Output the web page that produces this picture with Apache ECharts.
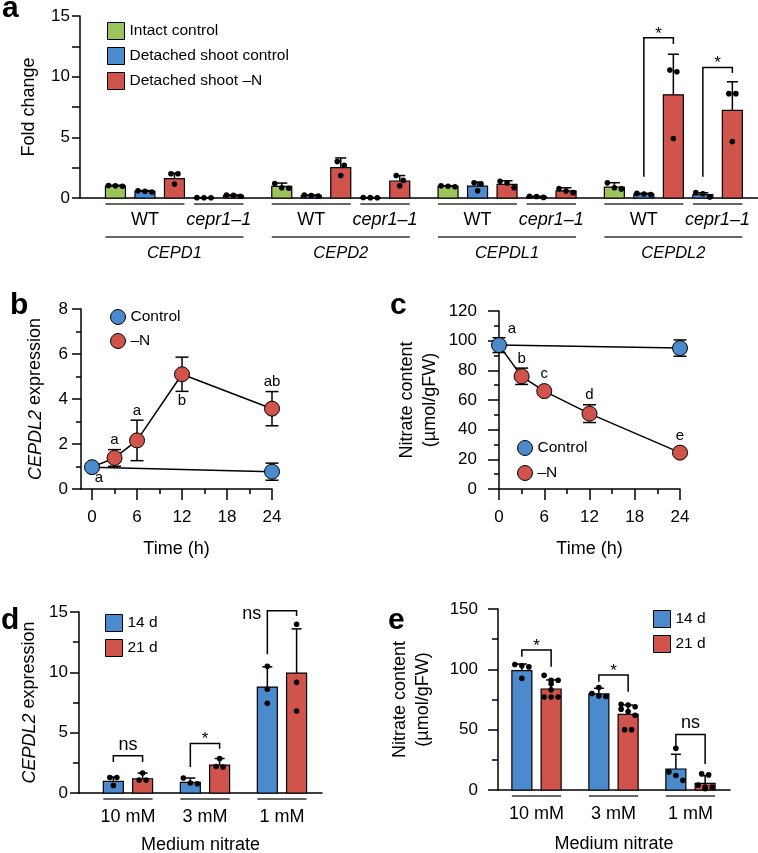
<!DOCTYPE html>
<html>
<head>
<meta charset="utf-8">
<script src="https://cdn.jsdelivr.net/npm/echarts@6/dist/echarts.min.js"></script>
<style>
  html, body { margin: 0; padding: 0; background: #fff; }
  #chart { width: 758px; height: 853px; }
</style>
</head>
<body>
<div id="chart"></div>
<script>
  // ---------- panel a : fold change of CEPD genes ----------
  const aGenes = ['CEPD1', 'CEPD2', 'CEPDL1', 'CEPDL2'];
  const aGenotypes = ['WT', 'cepr1\u20131'];
  const aSeriesNames = ['Intact control', 'Detached shoot control', 'Detached shoot \u2013N'];
  // bars inside one gene: WT intact, WT detached ctrl, WT detached -N, cepr1-1 detached ctrl, cepr1-1 detached -N
  const aTreat = [0, 1, 2, 1, 2];
  const aMean = [
    [0.98, 0.55, 1.60, 0.02, 0.20],
    [0.95, 0.20, 2.50, 0.03, 1.40],
    [0.96, 0.98, 1.12, 0.10, 0.58],
    [0.90, 0.32, 8.50, 0.28, 7.22]
  ];
  const aSd = [
    [0.07, 0.06, 0.45, 0.01, 0.05],
    [0.28, 0.05, 0.80, 0.01, 0.45],
    [0.04, 0.33, 0.30, 0.04, 0.26],
    [0.36, 0.06, 3.35, 0.15, 2.36]
  ];
  const aDots = [
    [[1.03, 1.0, 0.96], [0.6, 0.55, 0.5], [2.0, 2.0, 1.15], [0.03, 0.02, 0.02], [0.24, 0.22, 0.15]],
    [[1.2, 0.85, 0.8], [0.25, 0.2, 0.17], [3.0, 2.7, 1.85], [0.04, 0.03, 0.02], [1.85, 1.45, 1.0]],
    [[1.0, 0.97, 0.93], [1.25, 1.15, 0.6], [1.38, 1.24, 0.85], [0.15, 0.12, 0.05], [0.77, 0.58, 0.44]],
    [[1.25, 0.85, 0.75], [0.38, 0.33, 0.28], [10.55, 10.4, 4.9], [0.45, 0.35, 0.08], [8.6, 8.6, 4.65]]
  ];
  // gene, left bar, right bar, left foot, top, right foot
  const aBrackets = [[3, 1, 2, 1.75, 13.2, 12.7], [3, 3, 4, 1.75, 10.75, 10.3]];
  const aBracketText = ['*', '*'];

  // ---------- panel b : CEPDL2 expression over time ----------
  const bCtrlT = [0, 24];
  const bCtrl = [0.97, 0.77];
  const bCtrlSd = [0.05, 0.38];
  const bLettersC = ['a', ''];
  const bNT = [0, 3, 6, 12, 24];
  const bN = [0.97, 1.38, 2.16, 5.1, 3.57];
  const bNSd = [0, 0.37, 0.9, 0.76, 0.76];
  const bLettersN = ['', 'a', 'a', 'b', 'ab'];

  // ---------- panel c : nitrate content over time ----------
  const cCtrlT = [0, 24];
  const cCtrl = [97, 95];
  const cCtrlSd = [5, 5.5];
  const cLettersC = ['a', ''];
  const cNT = [0, 3, 6, 12, 24];
  const cN = [97, 76, 66, 50.8, 24.5];
  const cNSd = [0, 5.5, 1.5, 6, 1.5];
  const cLettersN = ['', 'b', 'c', 'd', 'e'];

  // ---------- panels d, e : medium nitrate ----------
  const nitrate = ['10 mM', '3 mM', '1 mM'];
  const ages = ['14 d', '21 d'];
  const dMean = [[0.96, 1.18], [0.88, 2.31], [8.78, 9.94]];
  const dSd = [[0.36, 0.47], [0.36, 0.55], [1.68, 3.66]];
  const dDots = [
    [[1.29, 1.29, 0.63], [1.65, 1.07, 1.07]],
    [[1.24, 0.83, 0.77], [2.86, 2.15, 2.2]],
    [[10.5, 8.6, 7.43], [13.98, 9.17, 6.8]]
  ];
  // category, left foot, top, right foot
  const dBrackets = [[0, 2.56, 3.08, 2.56], [1, 2.15, 4.1, 3.66], [2, 11.5, 15.1, 14.67]];
  const dBracketText = ['ns', '*', 'ns'];

  const eMean = [[99.0, 83.7], [79.6, 62.7], [17.4, 5.5]];
  const eSd = [[5.4, 7.5], [4.7, 7.7], [12.2, 6.4]];
  const eDots = [
    [[104, 103, 102, 92.5], [95, 91, 91, 88, 83, 77, 77, 77]],
    [[85, 80, 78, 77.5], [71, 70.5, 69, 67, 65, 62, 50, 50]],
    [[34.5, 15, 12, 8], [13.5, 12.5, 4, 2.5, 2.5, 1]]
  ];
  const eBrackets = [[0, 110.5, 116, 102.2], [1, 89.8, 95.3, 81.5], [2, 36, 46, 21.5]];
  const eBracketText = ['*', '*', 'ns'];

  // ---------- styling ----------
  const FONT = '"Liberation Sans", Arial, Helvetica, sans-serif';
  const GREEN = '#9cc45c', BLUE = '#4b8bcd', RED = '#d1544c';
  const A_STEP = 0.1774;   // spacing of bars inside a gene group (gene units)
  const DE_STEP = 0.19;    // half spacing of the two age bars (category units)
  const LINE = { stroke: '#000', lineWidth: 1.5 };

  function barItem(bw, cap) {
    return function (params, api) {
      const x = api.value(0), m = api.value(1), sd = api.value(2);
      const p0 = api.coord([x, 0]), p1 = api.coord([x, m]), p2 = api.coord([x, m + sd]);
      return {
        type: 'group', children: [
          { type: 'line', shape: { x1: p1[0], y1: p1[1], x2: p2[0], y2: p2[1] }, style: LINE },
          { type: 'line', shape: { x1: p2[0] - cap / 2, y1: p2[1], x2: p2[0] + cap / 2, y2: p2[1] }, style: LINE },
          { type: 'rect', shape: { x: p0[0] - bw / 2, y: p1[1], width: bw, height: p0[1] - p1[1] },
            style: { fill: api.visual('color'), stroke: '#000', lineWidth: 1.2 } }
        ]
      };
    };
  }

  // dots spread sideways when they sit on top of each other
  function dotItem(lists) {
    return function (params, api) {
      const x = api.value(0);
      const pts = lists[params.dataIndex].map(v => api.coord([x, v])).sort((p, q) => p[1] - q[1]);
      const kids = [];
      let i = 0;
      while (i < pts.length) {
        let j = i + 1;
        while (j < pts.length && j - i < 3 && pts[j][1] - pts[j - 1][1] < 5) j++;
        const n = j - i;
        for (let k = i; k < j; k++) {
          const dx = (k - i - (n - 1) / 2) * 7;
          kids.push({ type: 'circle', shape: { cx: pts[k][0] + dx, cy: pts[k][1], r: 2.8 }, style: { fill: '#000' } });
        }
        i = j;
      }
      return { type: 'group', children: kids };
    };
  }

  function bracketItem(texts, places) {
    return function (params, api) {
      const i = params.dataIndex;
      const xl = api.value(0), xr = api.value(1);
      const a = api.coord([xl, api.value(2)]), b = api.coord([xl, api.value(3)]);
      const c = api.coord([xr, api.value(3)]), d = api.coord([xr, api.value(4)]);
      const t = texts[i];
      const place = places ? places[i] : 'top';
      const star = t === '*';
      let tx = (b[0] + c[0]) / 2, ty = b[1] - (star ? 4 : 11), al = 'center';
      if (place === 'left') { tx = b[0] - 6; ty = b[1] + 3; al = 'right'; }
      return {
        type: 'group', children: [
          { type: 'polyline', shape: { points: [a, b, c, d] }, style: { stroke: '#000', lineWidth: 1.5, fill: null } },
          { type: 'text', x: tx, y: ty, style: { text: t, font: (star ? 17 : 18) + 'px ' + FONT, fill: '#000', align: al, verticalAlign: 'middle' } }
        ]
      };
    };
  }

  function errLetterItem(letters, places) {
    return function (params, api) {
      const i = params.dataIndex;
      const t = api.value(0), m = api.value(1), sd = api.value(2);
      const c = api.coord([t, m]), hi = api.coord([t, m + sd]), lo = api.coord([t, m - sd]);
      const kids = [];
      if (sd > 0) {
        kids.push({ type: 'line', shape: { x1: c[0], y1: hi[1], x2: c[0], y2: lo[1] }, style: LINE });
        kids.push({ type: 'line', shape: { x1: c[0] - 6.5, y1: hi[1], x2: c[0] + 6.5, y2: hi[1] }, style: LINE });
        kids.push({ type: 'line', shape: { x1: c[0] - 6.5, y1: lo[1], x2: c[0] + 6.5, y2: lo[1] }, style: LINE });
      }
      const txt = letters[i];
      if (txt) {
        const p = places[i];
        let x = c[0], y, va = 'middle';
        if (p === 'top') { y = Math.min(hi[1], c[1] - 7.5) - 2; va = 'bottom'; }
        else if (p === 'bottom') { y = Math.max(lo[1], c[1] + 7.5) + 2; va = 'top'; }
        else if (p === 'br') { x += 7; y = c[1] + 11; }
        else { x += 13; y = c[1] - 16; }
        kids.push({ type: 'text', x: x, y: y, style: { text: txt, font: '15px ' + FONT, fill: '#000', align: 'center', verticalAlign: va } });
      }
      return { type: 'group', children: kids };
    };
  }

  // underline + labels under panel a
  function aGroupItem(params, api) {
    const g = api.value(0);
    const px = k => api.coord([g + (k - 2) * A_STEP, 0]);
    const y0 = px(0)[1];
    const l0 = px(0)[0] - 10, r2 = px(2)[0] + 10, l3 = px(3)[0] - 10, r4 = px(4)[0] + 10;
    const ul = (x1, x2, y) => ({ type: 'line', shape: { x1: x1, y1: y, x2: x2, y2: y }, style: { stroke: '#333', lineWidth: 1.5 } });
    const tx = (x, y, s, italic, size) => ({ type: 'text', x: x, y: y,
      style: { text: s, font: (italic ? 'italic ' : '') + size + 'px ' + FONT, fill: '#000', align: 'center', verticalAlign: 'middle' } });
    return {
      type: 'group', children: [
        ul(l0, r2, y0 + 6), ul(l3, r4, y0 + 6), ul(l0, r4, y0 + 39),
        tx((l0 + r2) / 2, y0 + 22, aGenotypes[0], false, 18),
        tx((l3 + r4) / 2, y0 + 22, aGenotypes[1], true, 18),
        tx((l0 + r4) / 2, y0 + 55, aGenes[params.dataIndex], true, 16.5)
      ]
    };
  }

  function catGroupItem(params, api) {
    const c = api.value(0);
    const l = api.coord([c - DE_STEP, 0]), r = api.coord([c + DE_STEP, 0]);
    return {
      type: 'group', children: [
        { type: 'line', shape: { x1: l[0] - 10, y1: l[1] + 6, x2: r[0] + 10, y2: l[1] + 6 }, style: { stroke: '#333', lineWidth: 1.5 } },
        { type: 'text', x: (l[0] + r[0]) / 2, y: l[1] + 24,
          style: { text: nitrate[params.dataIndex], font: '18px ' + FONT, fill: '#000', align: 'center', verticalAlign: 'middle' } }
      ]
    };
  }

  // ---------- series ----------
  const series = [];
  const aColors = [GREEN, BLUE, RED];
  const aDotList = [], aDotData = [];
  aSeriesNames.forEach((name, s) => {
    const data = [];
    aGenes.forEach((g, gi) => aTreat.forEach((t, k) => {
      if (t === s) data.push([gi + (k - 2) * A_STEP, aMean[gi][k], aSd[gi][k]]);
    }));
    series.push({ name: name, type: 'custom', xAxisIndex: 0, yAxisIndex: 0, itemStyle: { color: aColors[s] },
      renderItem: barItem(20, 11), data: data, z: 2 });
  });
  aGenes.forEach((g, gi) => aTreat.forEach((t, k) => {
    aDotData.push([gi + (k - 2) * A_STEP, 0]);
    aDotList.push(aDots[gi][k]);
  }));
  series.push({ type: 'custom', xAxisIndex: 0, yAxisIndex: 0, renderItem: dotItem(aDotList), data: aDotData, z: 3 });
  series.push({ type: 'custom', xAxisIndex: 0, yAxisIndex: 0, renderItem: bracketItem(aBracketText), z: 3,
    data: aBrackets.map(b => [b[0] + (b[1] - 2) * A_STEP, b[0] + (b[2] - 2) * A_STEP, b[3], b[4], b[5]]) });
  series.push({ type: 'custom', xAxisIndex: 0, yAxisIndex: 0, renderItem: aGroupItem, data: aGenes.map((g, i) => [i, 0]) });

  // time course panels
  function timePanel(xi, yi, tC, vC, sdC, lC, placeC, tN, vN, sdN, lN, placeN) {
    series.push({ type: 'custom', xAxisIndex: xi, yAxisIndex: yi, z: 2, renderItem: errLetterItem(lN, placeN),
      data: tN.map((t, i) => [t, vN[i], sdN[i]]) });
    series.push({ type: 'custom', xAxisIndex: xi, yAxisIndex: yi, z: 2, renderItem: errLetterItem(lC, placeC),
      data: tC.map((t, i) => [t, vC[i], sdC[i]]) });
    series.push({ name: '\u2013N', type: 'line', xAxisIndex: xi, yAxisIndex: yi, z: 4,
      data: tN.map((t, i) => i === 0 ? { value: [t, vN[i]], symbol: 'none' } : [t, vN[i]]),
      symbol: 'circle', symbolSize: 15, itemStyle: { color: RED, borderColor: '#000', borderWidth: 1 },
      lineStyle: { color: '#000', width: 1.5 } });
    series.push({ name: 'Control', type: 'line', xAxisIndex: xi, yAxisIndex: yi, z: 5,
      data: tC.map((t, i) => [t, vC[i]]),
      symbol: 'circle', symbolSize: 15, itemStyle: { color: BLUE, borderColor: '#000', borderWidth: 1 },
      lineStyle: { color: '#000', width: 1.5 } });
  }
  timePanel(1, 1, bCtrlT, bCtrl, bCtrlSd, bLettersC, ['br', ''], bNT, bN, bNSd, bLettersN, ['', 'top', 'top', 'bottom', 'top']);
  timePanel(3, 2, cCtrlT, cCtrl, cCtrlSd, cLettersC, ['tr', ''], cNT, cN, cNSd, cLettersN, ['', 'top', 'top', 'top', 'top']);

  // nitrate panels
  function nitratePanel(xi, yi, mean, sd, dots, brackets, btext, bplace) {
    const colors = [BLUE, RED];
    ages.forEach((age, s) => {
      series.push({ name: age, type: 'custom', xAxisIndex: xi, yAxisIndex: yi, z: 2, itemStyle: { color: colors[s] },
        renderItem: barItem(20, 10), data: nitrate.map((n, c) => [c + (s ? DE_STEP : -DE_STEP), mean[c][s], sd[c][s]]) });
    });
    const dl = [], dd = [];
    nitrate.forEach((n, c) => ages.forEach((a, s) => { dd.push([c + (s ? DE_STEP : -DE_STEP), 0]); dl.push(dots[c][s]); }));
    series.push({ type: 'custom', xAxisIndex: xi, yAxisIndex: yi, z: 3, renderItem: dotItem(dl), data: dd });
    series.push({ type: 'custom', xAxisIndex: xi, yAxisIndex: yi, z: 3, renderItem: bracketItem(btext, bplace),
      data: brackets.map(b => [b[0] - DE_STEP, b[0] + DE_STEP, b[1], b[2], b[3]]) });
    series.push({ type: 'custom', xAxisIndex: xi, yAxisIndex: yi, renderItem: catGroupItem, data: nitrate.map((n, c) => [c, 0]) });
  }
  nitratePanel(4, 3, dMean, dSd, dDots, dBrackets, dBracketText, ['top', 'top', 'left']);
  nitratePanel(5, 4, eMean, eSd, eDots, eBrackets, eBracketText, null);

  // ---------- axes ----------
  const axLine = { show: true, onZero: false, lineStyle: { color: '#000', width: 1.5 } };
  const tickStyle = { color: '#000', width: 1.5 };
  const nameStyle = { fontSize: 18, color: '#000', fontFamily: FONT, lineHeight: 23,
    rich: { i: { fontStyle: 'italic', fontSize: 18, fontFamily: FONT, color: '#000' } } };
  function yAx(gi, max, interval, name, gap, margin, tick, minor) {
    return {
      type: 'value', gridIndex: gi, min: 0, max: max, interval: interval,
      axisLine: axLine,
      axisTick: { show: true, length: tick, lineStyle: tickStyle },
      minorTick: { show: true, splitNumber: 2, length: minor, lineStyle: tickStyle },
      axisLabel: { fontSize: 17, color: '#000', fontFamily: FONT, margin: margin },
      splitLine: { show: false }, minorSplitLine: { show: false },
      name: name, nameLocation: 'middle', nameGap: gap, nameTextStyle: nameStyle
    };
  }
  function plainX(gi, min, max, name, gap) {
    return {
      type: 'value', gridIndex: gi, min: min, max: max, axisLine: axLine,
      axisTick: { show: false }, axisLabel: { show: false }, splitLine: { show: false },
      name: name, nameLocation: 'middle', nameGap: gap, nameTextStyle: nameStyle
    };
  }

  const option = {
    animation: false,
    backgroundColor: '#fff',
    textStyle: { fontFamily: FONT },
    grid: [
      { left: 80, top: 16, width: 678, height: 182 },
      { left: 81, top: 309, width: 191, height: 180 },
      { left: 499, top: 311, width: 181, height: 178 },
      { left: 79, top: 612, width: 243, height: 181 },
      { left: 498, top: 609, width: 232, height: 181 }
    ].map(g => Object.assign({ containLabel: false, outerBoundsMode: 'none' }, g)),
    xAxis: [
      plainX(0, -0.568, 3.509, '', 0),
      {
        type: 'value', gridIndex: 1, min: -1.47, max: 24, axisLine: axLine,
        axisTick: { show: true, length: 11, lineStyle: tickStyle, customValues: [0, 6, 12, 18, 24] },
        axisLabel: { fontSize: 17, color: '#000', fontFamily: FONT, margin: 20, customValues: [0, 6, 12, 18, 24] },
        splitLine: { show: false },
        name: 'Time (h)', nameLocation: 'middle', nameGap: 49, nameTextStyle: nameStyle
      },
      {
        type: 'value', gridIndex: 1, position: 'bottom', min: -1.47, max: 24, axisLine: { show: false, onZero: false },
        axisTick: { show: true, length: 5, lineStyle: tickStyle, customValues: [3, 9, 15, 21] },
        axisLabel: { show: false }, splitLine: { show: false }
      },
      {
        type: 'value', gridIndex: 2, min: 0, max: 24, interval: 6, axisLine: axLine,
        axisTick: { show: true, length: 11, lineStyle: tickStyle },
        minorTick: { show: true, splitNumber: 2, length: 5, lineStyle: tickStyle },
        axisLabel: { fontSize: 17, color: '#000', fontFamily: FONT, margin: 20 },
        splitLine: { show: false }, minorSplitLine: { show: false },
        name: 'Time (h)', nameLocation: 'middle', nameGap: 49, nameTextStyle: nameStyle
      },
      plainX(3, -0.636, 2.52, 'Medium nitrate', 41),
      plainX(4, -0.5, 2.513, 'Medium nitrate', 43)
    ],
    yAxis: [
      Object.assign(yAx(0, 15, 5, 'Fold change', 39, 10, 8, 8), { minorTick: { show: true, splitNumber: 2, length: 8, lineStyle: tickStyle } }),
      yAx(1, 8, 2, '{i|CEPDL2} expression', 34, 13, 9, 5),
      yAx(2, 120, 20, 'Nitrate content\n(\u00b5mol/gFW)', 57, 22, 11, 5),
      yAx(3, 15, 5, '{i|CEPDL2} expression', 38, 11, 9, 6),
      yAx(4, 150, 50, 'Nitrate content\n(\u00b5mol/gFW)', 63, 20, 10, 6)
    ],
    legend: [
      { data: aSeriesNames, left: 107, top: 22 },
      { data: ['Control', '\u2013N'], left: 110, top: 309, icon: 'circle', itemWidth: 15, itemHeight: 15, itemGap: 8 },
      { data: ['Control', '\u2013N'], left: 517, top: 440, icon: 'circle', itemWidth: 15, itemHeight: 15, itemGap: 9 },
      { data: ages, left: 105, top: 614 },
      { data: ages, left: 653, top: 610 }
    ].map(l => Object.assign({
      orient: 'vertical', padding: 0, icon: 'rect', itemWidth: 17, itemHeight: 17, itemGap: 7, selectedMode: false,
      itemStyle: { borderColor: '#000', borderWidth: 1 },
      textStyle: { fontSize: 15.5, color: '#000', fontFamily: FONT }
    }, l)),
    graphic: [
      { type: 'text', x: 2, y: 9, style: { text: 'a', font: 'bold 30px ' + FONT, fill: '#000', verticalAlign: 'middle' } },
      { type: 'text', x: 10, y: 306, style: { text: 'b', font: 'bold 30px ' + FONT, fill: '#000', verticalAlign: 'middle' } },
      { type: 'text', x: 390, y: 306, style: { text: 'c', font: 'bold 30px ' + FONT, fill: '#000', verticalAlign: 'middle' } },
      { type: 'text', x: 1, y: 621, style: { text: 'd', font: 'bold 30px ' + FONT, fill: '#000', verticalAlign: 'middle' } },
      { type: 'text', x: 388, y: 621, style: { text: 'e', font: 'bold 30px ' + FONT, fill: '#000', verticalAlign: 'middle' } }
    ],
    series: series
  };

  const chart = echarts.init(document.getElementById('chart'), null, { renderer: 'canvas' });
  chart.setOption(option);
</script>
</body>
</html>
